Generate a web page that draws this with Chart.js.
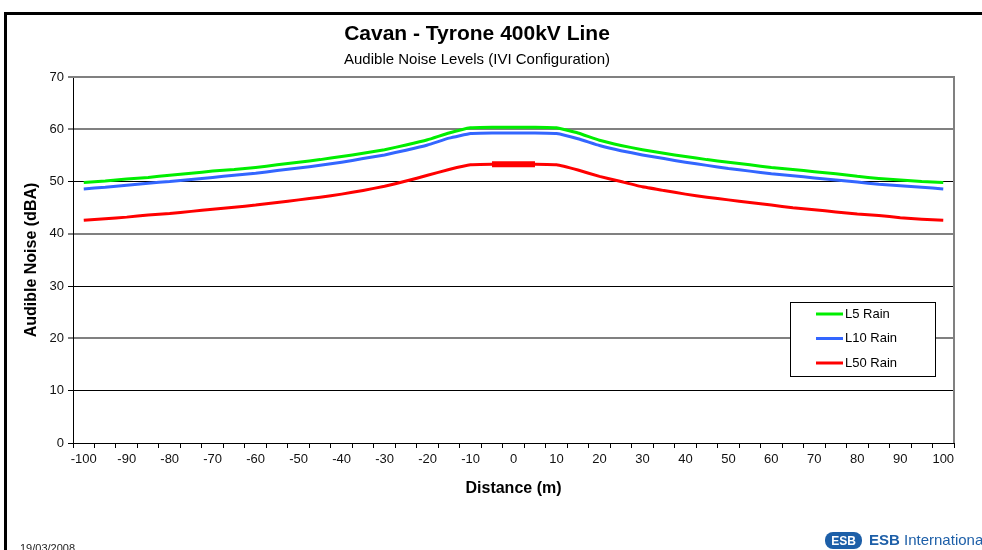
<!DOCTYPE html>
<html>
<head>
<meta charset="utf-8">
<script src="https://cdn.jsdelivr.net/npm/chart.js@4.4.1/dist/chart.umd.min.js"></script>
<style>
  html, body { margin: 0; padding: 0; background: #fff; overflow: hidden; }
  #wrap { position: relative; width: 982px; height: 550px; }
  canvas { display: block; }
</style>
</head>
<body>
<div id="wrap"><canvas id="c" width="982" height="550"></canvas></div>
<script>
// ---- Data ----
const distances = [-100,-95,-90,-85,-80,-75,-70,-65,-60,-55,-50,-45,-40,-35,-30,-25,-20,-15,-10,-5,0,5,10,15,20,25,30,35,40,45,50,55,60,65,70,75,80,85,90,95,100];
const l5Rain  = [49.8,50.1,50.5,50.8,51.2,51.6,52.0,52.3,52.7,53.2,53.7,54.2,54.8,55.4,56.1,57.0,58.0,59.3,60.3,60.4,60.4,60.4,60.3,59.3,57.9,56.9,56.1,55.4,54.8,54.2,53.7,53.2,52.7,52.3,51.9,51.5,51.0,50.6,50.3,50.0,49.8];
const l10Rain = [48.6,48.9,49.3,49.7,50.0,50.4,50.8,51.2,51.6,52.1,52.6,53.1,53.7,54.4,55.1,56.0,57.0,58.3,59.2,59.3,59.3,59.3,59.2,58.2,56.9,55.9,55.1,54.4,53.7,53.1,52.5,52.0,51.5,51.1,50.7,50.3,49.9,49.5,49.2,48.9,48.6];
const l50Rain = [42.6,42.9,43.2,43.6,43.9,44.3,44.7,45.1,45.5,46.0,46.5,47.0,47.6,48.3,49.1,50.1,51.2,52.3,53.2,53.3,53.3,53.3,53.2,52.2,51.0,50.0,49.0,48.3,47.6,47.0,46.5,46.0,45.5,45.0,44.6,44.2,43.8,43.5,43.1,42.8,42.6];
// thicker red segment near the centre line
const l50Centre = [null,null,null,null,null,null,null,null,null,null,null,null,null,null,null,null,null,null,null,53.3,53.3,53.3,null,null,null,null,null,null,null,null,null,null,null,null,null,null,null,null,null,null,null];
const yTicks = [0,10,20,30,40,50,60,70];

const FONT = "'Liberation Sans', Arial, sans-serif";

const framePlugin = {
  id: 'frame',
  beforeDraw(chart) {
    const ctx = chart.ctx;
    ctx.save();
    ctx.fillStyle = '#fff';
    ctx.fillRect(0, 0, chart.width, chart.height);
    ctx.strokeStyle = '#000';
    ctx.lineWidth = 3;
    ctx.beginPath();
    ctx.moveTo(5.5, 560);
    ctx.lineTo(5.5, 13.5);
    ctx.lineTo(990, 13.5);
    ctx.stroke();
    // titles
    ctx.fillStyle = '#000';
    ctx.textAlign = 'center';
    ctx.textBaseline = 'middle';
    ctx.font = 'bold 21px ' + FONT;
    ctx.fillText('Cavan - Tyrone 400kV Line', 477, 34);
    ctx.font = '15px ' + FONT;
    ctx.fillText('Audible Noise Levels (IVI Configuration)', 477, 60);
    // footer date
    ctx.textAlign = 'left';
    ctx.textBaseline = 'top';
    ctx.font = '11px ' + FONT;
    ctx.fillStyle = '#222';
    ctx.fillText('19/03/2008', 20, 543);
    // ESB logo
    const lx = 825, ly = 532, lw = 37, lh = 17;
    ctx.fillStyle = '#1d5fa8';
    ctx.beginPath();
    ctx.roundRect(lx, ly, lw, lh, 8);
    ctx.fill();
    ctx.fillStyle = '#fff';
    ctx.font = 'bold 12px ' + FONT;
    ctx.textAlign = 'center';
    ctx.textBaseline = 'middle';
    ctx.fillText('ESB', lx + lw / 2, ly + lh / 2 + 1);
    ctx.fillStyle = '#1d5fa8';
    ctx.textAlign = 'left';
    ctx.font = 'bold 15px ' + FONT;
    ctx.fillText('ESB', 869, 541);
    const w = ctx.measureText('ESB ').width;
    ctx.font = '15px ' + FONT;
    ctx.fillText('International', 869 + w, 541);
    ctx.restore();
  },
  beforeDatasetsDraw(chart) {
    const a = chart.chartArea, ctx = chart.ctx;
    ctx.save();
    ctx.strokeStyle = '#808080';
    ctx.lineWidth = 2;
    ctx.beginPath();
    ctx.moveTo(a.left, a.top);
    ctx.lineTo(a.right, a.top);
    ctx.lineTo(a.right, a.bottom);
    ctx.stroke();
    ctx.restore();
  },
  afterDraw(chart) {
    const ctx = chart.ctx;
    const bx = 790.5, by = 302.5, bw = 145, bh = 74;
    ctx.save();
    ctx.fillStyle = '#fff';
    ctx.fillRect(bx, by, bw, bh);
    ctx.strokeStyle = '#000';
    ctx.lineWidth = 1;
    ctx.strokeRect(bx, by, bw, bh);
    ctx.font = '13px ' + FONT;
    ctx.textBaseline = 'middle';
    ctx.textAlign = 'left';
    let i = 0;
    chart.data.datasets.forEach(ds => {
      if (ds.hideInLegend) return;
      const yy = 314 + i * 24.5;
      ctx.strokeStyle = ds.borderColor;
      ctx.lineWidth = 3;
      ctx.beginPath();
      ctx.moveTo(816, yy);
      ctx.lineTo(843, yy);
      ctx.stroke();
      ctx.fillStyle = '#000';
      ctx.fillText(ds.label, 845, yy);
      i++;
    });
    ctx.restore();
  }
};

const gridColor = v => (v === 70 || v === 60 || v === 40 || v === 20) ? '#808080' : '#000';
const gridWidth = v => (v === 70 || v === 60 || v === 40 || v === 20) ? 2 : 1;

new Chart(document.getElementById('c'), {
  type: 'line',
  data: {
    labels: distances,
    datasets: [
      { label: 'L5 Rain', data: l5Rain, borderColor: '#00ee00', borderWidth: 3, pointRadius: 0, tension: 0.1, order: 3 },
      { label: 'L10 Rain', data: l10Rain, borderColor: '#3366ff', borderWidth: 3, pointRadius: 0, tension: 0.1, order: 2 },
      { label: 'L50 Rain', data: l50Rain, borderColor: '#ff0000', borderWidth: 3, pointRadius: 0, tension: 0.1, order: 1 },
      { label: 'L50 Rain centre', data: l50Centre, borderColor: '#ff0000', borderWidth: 6, pointRadius: 0, tension: 0, hideInLegend: true, order: 0 }
    ]
  },
  plugins: [framePlugin],
  options: {
    responsive: false,
    animation: false,
    devicePixelRatio: 1,
    layout: { padding: { left: 14, right: 28, top: 77, bottom: 52 } },
    plugins: { legend: { display: false }, tooltip: { enabled: false }, title: { display: false } },
    scales: {
      x: {
        type: 'category',
        offset: true,
        grid: { drawOnChartArea: false, drawTicks: true, tickLength: 5, offset: true, color: '#000', lineWidth: 1 },
        border: { color: '#000', width: 1 },
        ticks: {
          autoSkip: false, maxRotation: 0, minRotation: 0, padding: 4,
          color: '#111', font: { family: FONT, size: 13 },
          callback: function(v, i) { const d = distances[i]; return d % 10 === 0 ? String(d) : ''; }
        },
        title: { display: true, text: 'Distance (m)', color: '#000', font: { family: FONT, size: 16, weight: 'bold' }, padding: { top: 4, bottom: 0 } },
        afterFit(s) { s.height = 55; }
      },
      y: {
        min: 0, max: 70,
        afterBuildTicks(s) { s.ticks = yTicks.map(v => ({ value: v })); },
        grid: { color: c => gridColor(c.tick.value), lineWidth: c => gridWidth(c.tick.value), tickLength: 5, drawTicks: true },
        border: { color: '#000', width: 1 },
        ticks: { color: '#111', padding: 4, font: { family: FONT, size: 13 } },
        title: { display: true, text: 'Audible Noise (dBA)', color: '#000', font: { family: FONT, size: 16, weight: 'bold' }, padding: { top: 8, bottom: 4 } },
        afterFit(s) { s.width = 59; }
      }
    }
  }
});
</script>
</body>
</html>
